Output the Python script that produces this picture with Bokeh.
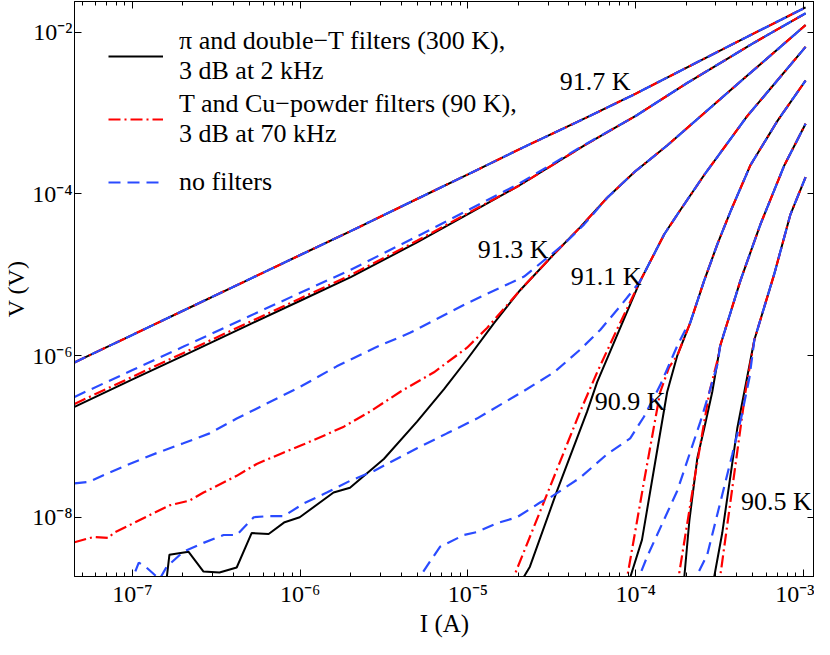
from bokeh.plotting import figure
from bokeh.models import FixedTicker, LogAxis, CustomJSTickFormatter, Legend, LegendItem
from bokeh.core.properties import value
from bokeh.embed import file_html
from bokeh.resources import INLINE

FONT = "Liberation Serif"
BLACK = "#000000"
RED = "#ff0000"
BLUE = "#2a4bff"

# ---------------- data (current I in A, voltage V in V) ----------------
# 91.7 K : all three wirings coincide
I_917 = [4.51e-8, 1e-7, 2e-7, 5e-7, 1e-6, 2e-6, 5e-6, 1e-5, 2e-5, 5e-5, 1e-4, 2e-4, 5e-4, 1.03e-3]
V_917 = [8.22e-7, 1.80e-6, 3.58e-6, 8.83e-6, 1.75e-5, 3.46e-5, 8.69e-5, 1.74e-4, 3.51e-4, 8.61e-4, 1.73e-3, 3.62e-3, 9.51e-3, 2.02e-2]

# 91.5 K
I_915 = [4.51e-8, 1e-7, 2e-7, 5e-7, 1e-6, 2e-6, 5e-6, 1e-5, 2e-5, 5e-5, 1e-4, 2e-4, 5e-4, 1.03e-3]
V_915 = [2.32e-7, 5.06e-7, 9.91e-7, 2.43e-6, 4.76e-6, 9.35e-6, 2.52e-5, 5.61e-5, 1.25e-4, 4.03e-4, 9.18e-4, 2.31e-3, 7.26e-3, 1.71e-2]
I_915_red = [4.51e-8, 1e-7, 2e-7, 5e-7, 1e-6, 2e-6, 5e-6, 1e-5]
V_915_red = [2.52e-7, 5.47e-7, 1.07e-6, 2.60e-6, 5.09e-6, 9.89e-6, 2.64e-5, 5.77e-5]
I_915_blue = [4.51e-8, 1e-7, 2e-7, 5e-7, 1e-6, 2e-6, 5e-6, 1e-5, 2e-5, 5e-5]
V_915_blue = [3.08e-7, 6.61e-7, 1.28e-6, 3.08e-6, 5.97e-6, 1.15e-5, 2.99e-5, 6.28e-5, 1.32e-4, 4.08e-4]

# 91.3 K
I_913 = [1.49e-7, 1.66e-7, 2.16e-7, 2.65e-7, 3.30e-7, 4.18e-7, 5.13e-7, 6.48e-7, 8.07e-7, 9.93e-7,
         1.58e-6, 1.98e-6, 3.15e-6, 4.97e-6, 7.20e-6, 9.87e-6, 1.43e-5, 2.04e-5, 3.26e-5, 4.66e-5,
         6.76e-5, 9.80e-5, 1.54e-4, 4.03e-4, 1.03e-3]
V_913 = [5e-10, 3.44e-9, 3.74e-9, 2.13e-9, 2.07e-9, 2.39e-9, 6.38e-9, 6.21e-9, 8.69e-9, 1.0e-8,
         2.02e-8, 2.32e-8, 5.25e-8, 1.52e-7, 3.85e-7, 8.93e-7, 2.52e-6, 6.38e-6, 1.80e-5, 3.85e-5,
         8.93e-5, 1.85e-4, 3.96e-4, 2.26e-3, 1.22e-2]
I_913_red = [4.51e-8, 5.85e-8, 7.19e-8, 7.70e-8, 9.60e-8, 1.33e-7, 1.66e-7, 2.19e-7, 2.65e-7, 4.18e-7,
             5.50e-7, 7.55e-7, 1.05e-6, 1.44e-6, 1.82e-6, 2.60e-6, 3.93e-6, 6.27e-6, 9.87e-6, 1.30e-5, 1.71e-5]
V_913_red = [4.90e-9, 5.70e-9, 5.54e-9, 6.38e-9, 7.98e-9, 1.12e-8, 1.40e-8, 1.61e-8, 2.02e-8, 3.25e-8,
             4.56e-8, 6.03e-8, 7.98e-8, 1.06e-7, 1.32e-7, 2.02e-7, 3.54e-7, 6.21e-7, 1.25e-6, 2.19e-6, 4.19e-6]
I_913_blue = [4.51e-8, 5.53e-8, 7.00e-8, 9.60e-8, 1.39e-7, 2.01e-7, 2.88e-7, 4.18e-7, 9.93e-7, 1.65e-6,
              2.79e-6, 4.51e-6, 9.87e-6, 2.16e-5, 3.74e-5, 4.93e-5]
V_913_blue = [2.62e-8, 2.75e-8, 3.44e-8, 4.56e-8, 6.21e-8, 8.22e-8, 1.09e-7, 1.66e-7, 4.07e-7, 7.35e-7,
              1.25e-6, 1.91e-6, 4.43e-6, 9.46e-6, 2.39e-5, 4.19e-5]

# 91.1 K
I_911 = [2.01e-5, 2.16e-5, 2.34e-5, 3.40e-5, 5.13e-5, 5.89e-5, 7.76e-5, 1.06e-4, 1.48e-4, 1.77e-4, 2.56e-4, 4.63e-4, 1.03e-3]
V_911 = [1.36e-9, 1.85e-9, 2.45e-9, 2.13e-8, 2.02e-7, 4.69e-7, 1.80e-6, 8.22e-6, 3.16e-5, 5.54e-5, 1.71e-4, 9.18e-4, 6.56e-3]
I_911_red = [1.78e-5, 1.88e-5, 2.97e-5, 4.66e-5, 5.89e-5, 7.76e-5]
V_911_red = [1.36e-9, 1.85e-9, 1.96e-8, 2.02e-7, 6.21e-7, 2.13e-6]
I_911_blue = [9.46e-8, 1.09e-7, 1.21e-7, 1.45e-7, 1.60e-7, 2.01e-7, 2.65e-7, 3.49e-7, 4.18e-7, 5.28e-7,
              6.31e-7, 7.96e-7, 1.05e-6, 1.44e-6, 1.98e-6, 2.75e-6, 4.97e-6, 7.50e-6, 1.13e-5, 2.25e-5,
              3.26e-5, 4.66e-5, 6.14e-5, 8.08e-5]
V_911_blue = [1.29e-9, 2.75e-9, 2.39e-9, 1.71e-9, 2.45e-9, 3.74e-9, 4.82e-9, 6.03e-9, 6.03e-9, 1.0e-8,
              1.03e-8, 1.03e-8, 1.48e-8, 2.02e-8, 2.82e-8, 3.74e-8, 7.14e-8, 1.09e-7, 1.66e-7, 3.85e-7,
              6.21e-7, 1.18e-6, 2.07e-6, 4.07e-6]

# 90.9 K
I_909 = [9.02e-5, 9.27e-5, 1.09e-4, 1.31e-4, 1.54e-4, 1.77e-4, 2.11e-4, 2.56e-4, 3.07e-4, 3.67e-4, 4.83e-4, 7.00e-4, 1.03e-3]
V_909 = [1.29e-9, 1.80e-9, 5.25e-9, 4.96e-8, 3.54e-7, 1.0e-6, 2.52e-6, 8.45e-6, 2.39e-5, 6.03e-5, 2.26e-4, 7.98e-4, 2.52e-3]
I_909_red = [8.53e-5, 8.89e-5, 1.12e-4, 1.40e-4, 1.58e-4]
V_909_red = [1.29e-9, 1.80e-9, 2.75e-8, 3.54e-7, 7.14e-7]
I_909_blue = [4.97e-6, 5.17e-6, 5.93e-6, 6.81e-6, 9.46e-6, 1.13e-5, 1.49e-5, 1.96e-5, 2.69e-5, 3.09e-5,
              4.66e-5, 6.76e-5, 9.27e-5, 1.12e-4, 1.40e-4, 1.77e-4, 2.03e-4]
V_909_blue = [1.29e-9, 1.85e-9, 2.82e-9, 4.31e-9, 6.03e-9, 6.56e-9, 8.45e-9, 1.0e-8, 1.52e-8, 1.75e-8,
              3.08e-8, 6.03e-8, 9.46e-8, 1.75e-7, 4.31e-7, 1.32e-6, 2.32e-6]

# 90.7 K
I_907 = [1.92e-4, 1.95e-4, 2.09e-4, 2.33e-4, 2.56e-4, 2.86e-4, 3.19e-4, 4.21e-4, 5.54e-4, 7.70e-4, 1.03e-3]
V_907 = [1.29e-9, 1.85e-9, 9.18e-9, 5.40e-8, 1.25e-7, 3.54e-7, 1.32e-6, 8.45e-6, 4.19e-5, 2.26e-4, 7.35e-4]
I_907_red = [1.80e-4, 1.82e-4, 2.23e-4, 2.75e-4, 3.07e-4]
V_907_red = [1.29e-9, 2.07e-9, 2.82e-8, 3.54e-7, 8.69e-7]
I_907_blue = [1.01e-4, 1.05e-4, 1.17e-4, 1.77e-4, 2.43e-4, 2.75e-4, 3.07e-4]
V_907_blue = [1.29e-9, 1.85e-9, 3.25e-9, 2.13e-8, 1.52e-7, 3.54e-7, 7.76e-7]

# 90.5 K
I_905 = [2.90e-4, 2.94e-4, 3.28e-4, 4.03e-4, 4.44e-4, 5.10e-4, 6.71e-4, 8.36e-4, 1.03e-3]
V_905 = [1.29e-9, 1.85e-9, 6.38e-9, 1.25e-7, 3.54e-7, 1.57e-6, 1.03e-5, 5.54e-5, 1.61e-4]
I_905_red = [3.15e-4, 3.19e-4, 4.51e-4]
V_905_red = [1.29e-9, 1.85e-9, 3.54e-7]
I_905_blue = [2.23e-4, 2.30e-4, 2.67e-4, 3.77e-4, 4.27e-4, 4.77e-4]
V_905_blue = [1.29e-9, 1.85e-9, 3.44e-9, 6.03e-8, 1.75e-7, 5.40e-7]

# temperature labels
label_text = ["91.7 K", "91.3 K", "91.1 K", "90.9 K", "90.5 K"]
label_I = [5.73e-5, 1.86e-5, 6.67e-5, 9.27e-5, 6.90e-4]
label_V = [2.45e-3, 2.07e-5, 9.46e-6, 2.67e-7, 1.57e-8]

legend_labels = ["π and double−T filters (300 K),\n3 dB at 2 kHz",
                 "T and Cu−powder filters (90 K),\n3 dB at 70 kHz",
                 "no filters"]

x_major = [1e-7, 1e-6, 1e-5, 1e-4, 1e-3]
x_exps = [-7, -6, -5, -4, -3]
x_tick_labels = ["10⁻⁷", "10⁻⁶", "10⁻⁵", "10⁻⁴", "10⁻³"]
y_major = [1e-8, 1e-6, 1e-4, 1e-2]
y_exps = [-8, -6, -4, -2]
y_tick_labels = ["10⁻⁸", "10⁻⁶", "10⁻⁴", "10⁻²"]


def join(lowI, lowV, I, V):
    last = lowI[-1]
    return (lowI + [i for i in I if i > last],
            lowV + [v for i, v in zip(I, V) if i > last])


curves = [
    (I_917, V_917, (I_917, V_917), (I_917, V_917)),
    (I_915, V_915, join(I_915_red, V_915_red, I_915, V_915), join(I_915_blue, V_915_blue, I_915, V_915)),
    (I_913, V_913, join(I_913_red, V_913_red, I_913, V_913), join(I_913_blue, V_913_blue, I_913, V_913)),
    (I_911, V_911, join(I_911_red, V_911_red, I_911, V_911), join(I_911_blue, V_911_blue, I_911, V_911)),
    (I_909, V_909, join(I_909_red, V_909_red, I_909, V_909), join(I_909_blue, V_909_blue, I_909, V_909)),
    (I_907, V_907, join(I_907_red, V_907_red, I_907, V_907), join(I_907_blue, V_907_blue, I_907, V_907)),
    (I_905, V_905, join(I_905_red, V_905_red, I_905, V_905), join(I_905_blue, V_905_blue, I_905, V_905)),
]

W, H, BT, BB = 814, 639, 1, 60
p = figure(width=W, height=H, x_axis_type="log", y_axis_type="log",
           x_range=(4.51e-8, 1.164e-3), y_range=(1.85e-9, 2.39e-2),
           output_backend="svg", toolbar_location=None,
           min_border_left=70, min_border_right=0, min_border_top=BT, min_border_bottom=BB)
p.xgrid.visible = False
p.ygrid.visible = False
p.outline_line_color = "black"
p.outline_line_width = 1
p.background_fill_color = "white"
p.border_fill_color = "white"

bottom = p.below[0]
left = p.left[0]

legend_renderers = None
for (Ib, Vb, (Ir, Vr), (Iu, Vu)) in curves:
    rb = p.line(Ib, Vb, line_color=BLACK, line_width=2)
    rr = p.line(Ir, Vr, line_color=RED, line_width=2.2, line_dash="12 4 2 4")
    ru = p.line(Iu, Vu, line_color=BLUE, line_width=2.2, line_dash="12 7")
    if legend_renderers is None:
        legend_renderers = [rb, rr, ru]

p.text(x=label_I, y=label_V, text=label_text, text_font=value(FONT), text_font_size="26px",
       text_align="center", text_baseline="middle", text_color="black")

x_minor = [k * 10.0 ** e for e in range(-8, -2) for k in range(2, 10)]
xt = FixedTicker(ticks=x_major, minor_ticks=x_minor)
yt = FixedTicker(ticks=y_major, minor_ticks=[])

fmt_code = """
const e = Math.round(Math.log10(tick));
const i = exps.indexOf(e);
return i >= 0 ? labels[i] : "";
"""
bottom.ticker = xt
left.ticker = yt
bottom.formatter = CustomJSTickFormatter(args=dict(exps=x_exps, labels=x_tick_labels), code=fmt_code)
left.formatter = CustomJSTickFormatter(args=dict(exps=y_exps, labels=y_tick_labels), code=fmt_code)

top = LogAxis(ticker=xt, formatter=CustomJSTickFormatter(code="return '';"))
right = LogAxis(ticker=yt, formatter=CustomJSTickFormatter(code="return '';"))
p.add_layout(top, "above")
p.add_layout(right, "right")

for ax in [bottom, left, top, right]:
    ax.major_tick_in = 7
    ax.major_tick_out = 0
    ax.minor_tick_in = 4
    ax.minor_tick_out = 0
    ax.axis_line_color = "black"
    ax.major_tick_line_color = "black"
    ax.minor_tick_line_color = "black"
    ax.major_label_text_font = FONT
    ax.major_label_text_font_size = "24px"
    ax.major_label_text_color = "black"
    ax.major_label_text_line_height = 1.0
    ax.axis_label_text_font = FONT
    ax.axis_label_text_font_size = "25px"
    ax.axis_label_text_font_style = "normal"
    ax.axis_label_text_color = "black"
    ax.axis_label_text_line_height = 1.0
for ax in [top, right]:
    ax.major_label_standoff = 0
    ax.major_label_text_font_size = "0px"
    ax.axis_label_standoff = 0

bottom.axis_label = "I (A)"
bottom.major_label_standoff = 4
bottom.axis_label_standoff = 0
left.axis_label = "V (V)"
left.axis_label_text_font_size = "24px"
left.major_label_standoff = 2
left.axis_label_standoff = 0

frame_h = H - BT - 68
legend = Legend(items=[LegendItem(label=lab, renderers=[r]) for lab, r in zip(legend_labels, legend_renderers)],
                location=(34, frame_h - 20 - 186), padding=0, margin=0, spacing=3,
                glyph_width=55, glyph_height=60, label_height=60, label_standoff=16,
                label_text_font=FONT, label_text_font_size="26px", label_text_color="black",
                label_text_line_height=1.15,
                border_line_color=None, background_fill_alpha=0)
p.add_layout(legend)

open("out.html", "w").write(file_html(p, INLINE))
